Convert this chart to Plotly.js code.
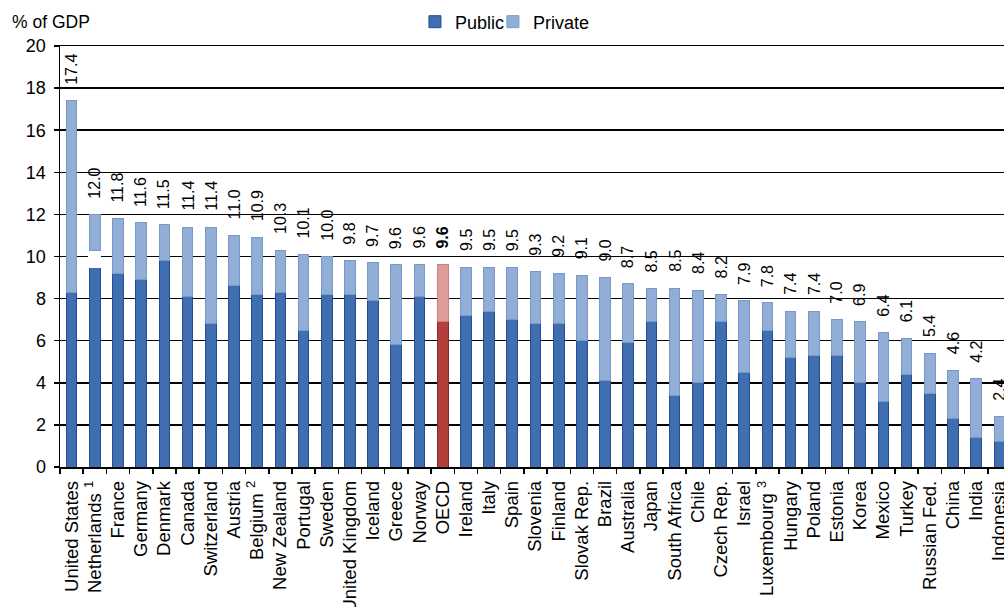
<!DOCTYPE html>
<html>
<head>
<meta charset="utf-8">
<script src="https://cdn.plot.ly/plotly-3.0.1.min.js"></script>
<style>
  html, body { margin: 0; padding: 0; background: #fff; }
  #chart { width: 1004px; height: 607px; }
</style>
</head>
<body>
<div id="chart"></div>
<script>
// ---- data (% of GDP) ----
const countries = [
  "United States", "Netherlands <sup>1</sup>", "France", "Germany", "Denmark", "Canada",
  "Switzerland", "Austria", "Belgium <sup>2</sup>", "New Zealand", "Portugal", "Sweden",
  "United Kingdom", "Iceland", "Greece", "Norway", "OECD", "Ireland", "Italy", "Spain",
  "Slovenia", "Finland", "Slovak Rep.", "Brazil", "Australia", "Japan", "South Africa",
  "Chile", "Czech Rep.", "Israel", "Luxembourg <sup>3</sup>", "Hungary", "Poland", "Estonia",
  "Korea", "Mexico", "Turkey", "Russian Fed.", "China", "India", "Indonesia"
];
const publicSpend = [
  8.3, 9.5, 9.2, 8.9, 9.8, 8.1, 6.8, 8.6, 8.2, 8.3, 6.5, 8.2,
  8.2, 7.9, 5.8, 8.1, 6.9, 7.2, 7.4, 7.0, 6.8, 6.8, 6.0, 4.1,
  5.9, 6.9, 3.4, 4.0, 6.9, 4.5, 6.5, 5.2, 5.3, 5.3, 4.0, 3.1,
  4.4, 3.5, 2.3, 1.4, 1.2
];
// white break drawn inside the Netherlands bar
const breakGap = [
  null, 0.8, null, null, null, null, null, null, null, null, null, null,
  null, null, null, null, null, null, null, null, null, null, null, null,
  null, null, null, null, null, null, null, null, null, null, null, null,
  null, null, null, null, null
];
const privateSpend = [
  9.1, 1.7, 2.6, 2.7, 1.7, 3.3, 4.6, 2.4, 2.7, 2.0, 3.6, 1.8,
  1.6, 1.8, 3.8, 1.5, 2.7, 2.3, 2.1, 2.5, 2.5, 2.4, 3.1, 4.9,
  2.8, 1.6, 5.1, 4.4, 1.3, 3.4, 1.3, 2.2, 2.1, 1.7, 2.9, 3.3,
  1.7, 1.9, 2.3, 2.8, 1.2
];
const totals = [
  17.4, 12.0, 11.8, 11.6, 11.5, 11.4, 11.4, 11.0, 10.9, 10.3, 10.1, 10.0,
  9.8, 9.7, 9.6, 9.6, 9.6, 9.5, 9.5, 9.5, 9.3, 9.2, 9.1, 9.0,
  8.7, 8.5, 8.5, 8.4, 8.2, 7.9, 7.8, 7.4, 7.4, 7.0, 6.9, 6.4,
  6.1, 5.4, 4.6, 4.2, 2.4
];
const highlight = "OECD";
const yTicks = [0, 2, 4, 6, 8, 10, 12, 14, 16, 18, 20];

// ---- styles ----
const FONT = "Liberation Sans, Arial, sans-serif";
const pubFill = countries.map(c => c === highlight ? "#B23F3B" : "#3F6FB1");
const pubLine = countries.map(c => c === highlight ? "#8A2926" : "#234D8E");
const prvFill = countries.map(c => c === highlight ? "#DE9C9A" : "#91AFD6");
const prvLine = countries.map(c => c === highlight ? "#C7817F" : "#7898C6");

const traces = [
  {
    type: "bar", name: "Public", x: countries, y: publicSpend, legend: "legend",
    marker: { color: pubFill, line: { color: pubLine, width: 1 } },
    hoverinfo: "skip"
  },
  {
    type: "bar", name: "break", x: countries, y: breakGap, showlegend: false,
    marker: { color: "#ffffff", line: { color: "#ffffff", width: 2 } },
    hoverinfo: "skip"
  },
  {
    type: "bar", name: "Private", x: countries, y: privateSpend, legend: "legend2",
    marker: { color: prvFill, line: { color: prvLine, width: 1 } },
    hoverinfo: "skip"
  }
];

const annotations = countries.map((c, i) => ({
  x: c, y: totals[i], xref: "x", yref: "y",
  text: c === highlight ? "<b>" + totals[i].toFixed(1) + "</b>" : totals[i].toFixed(1),
  textangle: -90, showarrow: false, xanchor: "center", yanchor: "bottom",
  yshift: 14, font: { family: FONT, size: 16, color: "#000" }
}));
annotations.push({
  text: "% of GDP", xref: "paper", yref: "paper", x: -0.053, y: 1.057,
  xanchor: "left", yanchor: "middle", showarrow: false,
  font: { family: FONT, size: 17.5, color: "#000" }
});

const legendBase = {
  orientation: "h", y: 1.057, xanchor: "left", yanchor: "middle",
  font: { family: FONT, size: 18, color: "#000" },
  bgcolor: "rgba(0,0,0,0)"
};

const layout = {
  width: 1004, height: 607,
  margin: { l: 60, r: 0, t: 46, b: 140 },
  paper_bgcolor: "#fff", plot_bgcolor: "#fff",
  barmode: "stack", bargap: 0.54,
  font: { family: FONT, color: "#000", size: 17 },
  showlegend: true,
  legend: Object.assign({ x: 0.376 }, legendBase),
  legend2: Object.assign({ x: 0.4586 }, legendBase),
  xaxis: {
    type: "category", range: [-0.5, 40.2],
    tickangle: -90, tickson: "boundaries", ticks: "outside", ticklen: 5,
    tickcolor: "#000", tickwidth: 1.5, ticklabelstandoff: 5,
    showline: true, mirror: true, linecolor: "#000", linewidth: 1.5,
    showgrid: false, zeroline: false,
    tickfont: { family: FONT, size: 18.5, color: "#000" },
    fixedrange: true
  },
  yaxis: {
    range: [0, 20], tickvals: yTicks, ticktext: yTicks.map(String),
    ticks: "outside", ticklen: 5, tickcolor: "#000", tickwidth: 1.5,
    ticklabelstandoff: 4,
    showline: true, linecolor: "#000", linewidth: 1.5,
    showgrid: true, gridcolor: "#000", gridwidth: 1.5,
    zeroline: false,
    tickfont: { family: FONT, size: 18, color: "#000" },
    fixedrange: true
  },
  annotations: annotations
};

Plotly.newPlot("chart", traces, layout, { displayModeBar: false, staticPlot: true });
</script>
</body>
</html>
